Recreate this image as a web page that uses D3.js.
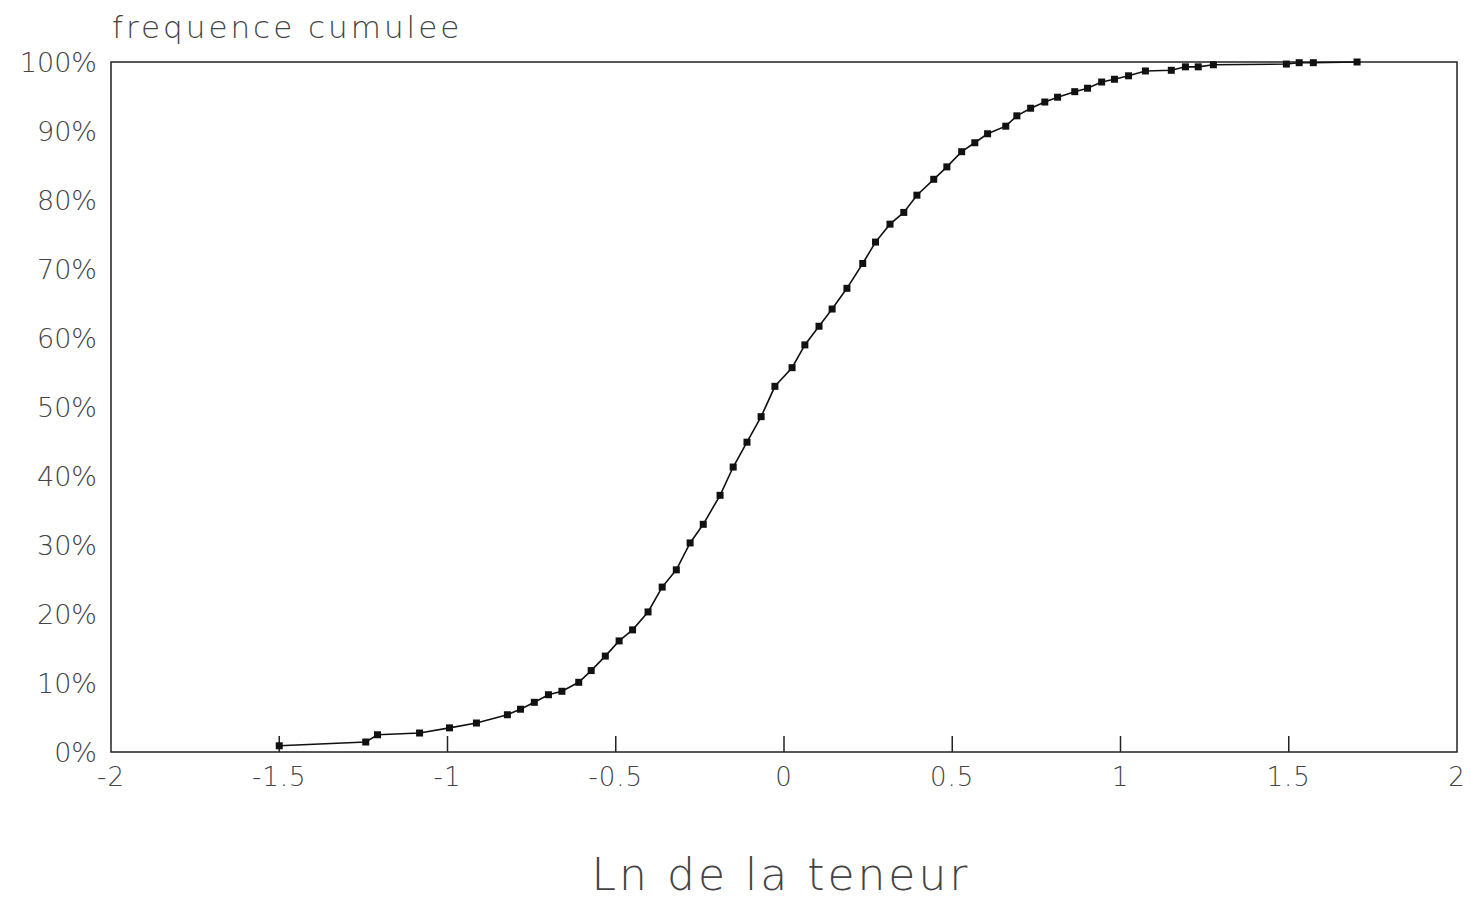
<html>
<head>
<script src="https://d3js.org/d3.v7.min.js"></script>
<style>
  body { margin: 0; background: #fff; }
  text { font-family: "DejaVu Sans", sans-serif; font-weight: 200; fill: #444; }
</style>
</head>
<body>
<script>
// Ln de la teneur vs frequence cumulee (%)
var lnTeneur = [-1.50, -1.243, -1.208, -1.083, -0.994, -0.914, -0.822, -0.783, -0.742, -0.70,
  -0.66, -0.61, -0.573, -0.531, -0.49, -0.45, -0.404, -0.362, -0.32, -0.279,
  -0.24, -0.19, -0.151, -0.11, -0.068, -0.027, 0.024, 0.062, 0.104, 0.143,
  0.187, 0.234, 0.272, 0.315, 0.356, 0.395, 0.445, 0.484, 0.528, 0.567,
  0.605, 0.659, 0.692, 0.733, 0.775, 0.813, 0.864, 0.902, 0.944, 0.982,
  1.024, 1.074, 1.151, 1.193, 1.231, 1.276, 1.493, 1.531, 1.573, 1.703];
var freqCum = [0.9, 1.45, 2.5, 2.75, 3.5, 4.2, 5.4, 6.2, 7.2, 8.3,
  8.8, 10.1, 11.8, 13.9, 16.1, 17.7, 20.3, 23.9, 26.4, 30.3,
  33.0, 37.2, 41.3, 44.9, 48.6, 53.0, 55.7, 59.0, 61.7, 64.2,
  67.2, 70.8, 73.9, 76.5, 78.2, 80.7, 83.0, 84.8, 87.0, 88.3,
  89.6, 90.7, 92.2, 93.3, 94.2, 94.9, 95.7, 96.2, 97.1, 97.5,
  98.0, 98.7, 98.8, 99.3, 99.3, 99.6, 99.7, 99.9, 99.9, 100];
var xTicks = [-2, -1.5, -1, -0.5, 0, 0.5, 1, 1.5, 2];
var yTicks = [0, 10, 20, 30, 40, 50, 60, 70, 80, 90, 100];

var W = 1471, H = 899;
var svg = d3.select("body").append("svg").attr("width", W).attr("height", H);

var x = d3.scaleLinear().domain([-2, 2]).range([111, 1457]);
var y = d3.scaleLinear().domain([0, 100]).range([752, 62]);

var pts = lnTeneur.map(function(d, i) { return {x: d, y: freqCum[i]}; });

// frame
svg.append("rect")
  .attr("x", x(-2)).attr("y", y(100))
  .attr("width", x(2) - x(-2)).attr("height", y(0) - y(100))
  .attr("fill", "none").attr("stroke", "#222").attr("stroke-width", 1.5);

// bottom ticks (pointing up, inside)
svg.selectAll(".xt").data(xTicks.slice(1, -1)).enter().append("line")
  .attr("x1", d => x(d)).attr("x2", d => x(d))
  .attr("y1", y(0)).attr("y2", y(0) - 16)
  .attr("stroke", "#222").attr("stroke-width", 1.5);

// tick labels
svg.selectAll(".xl").data(xTicks).enter().append("text")
  .attr("x", d => x(d)).attr("y", 786)
  .attr("text-anchor", "middle")
  .style("font-size", "26px")
  .style("letter-spacing", "1px")
  .text(d => d);

svg.selectAll(".yl").data(yTicks).enter().append("text")
  .attr("x", 97).attr("y", d => y(d) + 10)
  .attr("text-anchor", "end")
  .style("font-size", "27px")
  .text(d => d + "%");

// titles
svg.append("text").attr("x", 112).attr("y", 38)
  .style("font-size", "31px")
  .style("letter-spacing", "3px")
  .text("frequence cumulee");

svg.append("text").attr("x", 781).attr("y", 890)
  .attr("text-anchor", "middle")
  .style("font-size", "44px")
  .style("letter-spacing", "3px")
  .text("Ln de la teneur");

// curve
var line = d3.line().x(d => x(d.x)).y(d => y(d.y));
svg.append("path").datum(pts)
  .attr("d", line)
  .attr("fill", "none").attr("stroke", "#111").attr("stroke-width", 1.6);

svg.selectAll(".pt").data(pts).enter().append("rect")
  .attr("x", d => x(d.x) - 3.5).attr("y", d => y(d.y) - 3.5)
  .attr("width", 7).attr("height", 7)
  .attr("fill", "#111");
</script>
</body>
</html>
